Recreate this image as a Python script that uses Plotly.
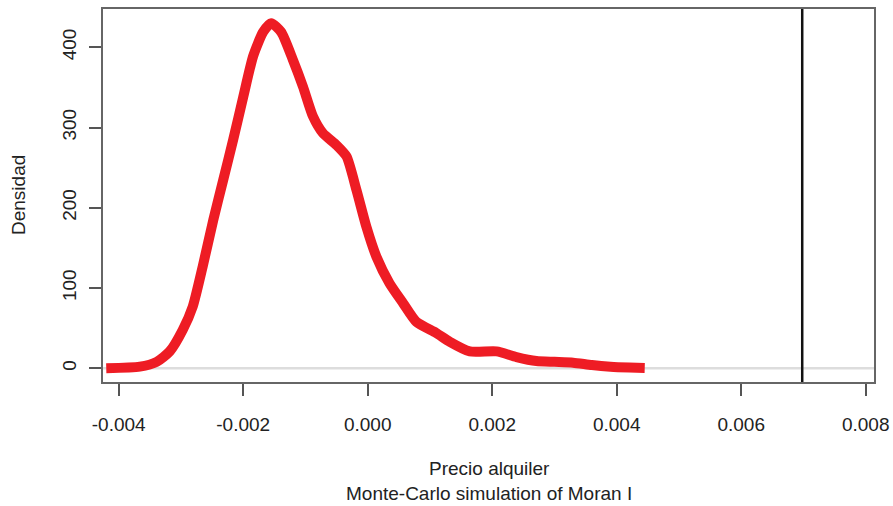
import plotly.graph_objects as go

# Density of Monte-Carlo simulated Moran I
x_vals = [-0.00420, -0.00366, -0.00339, -0.00318, -0.00297, -0.00281, -0.00265, -0.00248,
          -0.00232, -0.00216, -0.00200, -0.00184, -0.00168, -0.00155, -0.00139, -0.00120,
          -0.00104, -0.00088, -0.00072, -0.00050, -0.00034, -0.00018, -0.00002, 0.00014,
          0.00035, 0.00057, 0.00078, 0.00110, 0.00132, 0.00164, 0.00207, 0.00239,
          0.00271, 0.00300, 0.00330, 0.00360, 0.00390, 0.00420, 0.00445]
density = [0, 2, 8, 21, 48, 77, 127, 185,
           235, 285, 338, 389, 419, 430, 419, 384,
           351, 314, 293, 278, 264, 222, 176, 139,
           106, 81, 58, 44, 33, 21, 21, 14,
           9, 8, 7, 4, 2, 1, 0.5]
observed = 0.00698

x_ticks = [-0.004, -0.002, 0.000, 0.002, 0.004, 0.006, 0.008]
x_tick_labels = ["-0.004", "-0.002", "0.000", "0.002", "0.004", "0.006", "0.008"]
y_ticks = [0, 100, 200, 300, 400]
y_tick_labels = ["0", "100", "200", "300", "400"]

FONT = "Liberation Sans, Arial, sans-serif"
TXT = "#222222"

fig = go.Figure()
fig.add_trace(go.Scatter(
    x=x_vals, y=density, mode="lines",
    line=dict(color="#ee1c24", width=10, shape="spline", smoothing=0.6),
    showlegend=False, hoverinfo="skip"))

fig.add_shape(type="line", xref="paper", yref="y", x0=0, x1=1, y0=0, y1=0,
              line=dict(color="#dddddd", width=2.5), layer="below")
fig.add_shape(type="line", xref="x", yref="paper", x0=observed, x1=observed, y0=0, y1=1,
              line=dict(color="#111111", width=2.5))

L, R, T, B = 103, 19, 9, 124
W, H = 893, 506

fig.update_layout(
    width=W, height=H,
    margin=dict(l=L, r=R, t=T, b=B, autoexpand=False),
    paper_bgcolor="white", plot_bgcolor="white",
    font=dict(family=FONT, size=19, color=TXT),
    xaxis=dict(range=[-0.004252, 0.008133], tickvals=x_ticks, ticktext=x_tick_labels,
               automargin=False,
               showgrid=False, zeroline=False, showline=True, mirror=True,
               linecolor="#666666", linewidth=1.5, ticks="outside", ticklen=12,
               tickcolor="#555555", tickwidth=1.5, ticklabelstandoff=12,
               tickfont=dict(family=FONT, size=19, color=TXT)),
    yaxis=dict(range=[-17.1, 447.7], tickvals=y_ticks, ticktext=y_tick_labels,
               tickangle=-90, automargin=False,
               showgrid=False, zeroline=False, showline=True, mirror=True,
               linecolor="#666666", linewidth=1.5, ticks="outside", ticklen=12,
               tickcolor="#555555", tickwidth=1.5, ticklabelstandoff=6,
               tickfont=dict(family=FONT, size=19, color=TXT)),
)

pw = W - L - R
ph = H - T - B
def px(xp):
    return (xp - L) / pw
def py(yp):
    return (H - B - yp) / ph

fig.update_layout(annotations=[
    dict(text="Densidad", x=px(18), y=py(195), xref="paper", yref="paper",
         xanchor="center", yanchor="middle", showarrow=False, textangle=-90,
         font=dict(family=FONT, size=19, color=TXT)),
    dict(text="Precio alquiler", x=px(489), y=py(468), xref="paper", yref="paper",
         xanchor="center", yanchor="middle", showarrow=False,
         font=dict(family=FONT, size=19, color=TXT)),
    dict(text="Monte-Carlo simulation of Moran I", x=px(489), y=py(493), xref="paper",
         yref="paper", xanchor="center", yanchor="middle", showarrow=False,
         font=dict(family=FONT, size=19, color=TXT)),
])

fig.write_html("out.html")
